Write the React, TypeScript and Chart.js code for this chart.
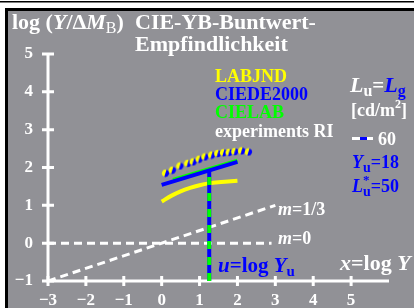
import { useEffect, useRef } from "react";
import { Chart, registerables } from "chart.js";

Chart.register(...registerables);

const xTickValues = [-3, -2, -1, 0, 1, 2, 3, 4, 5];
const yTickValues = [-1, 0, 1, 2, 3, 4, 5];
const slopeThirdX = [-3, 3];
const slopeThirdY = [-1, 1];
const slopeZeroX = [-3, 2.9];
const slopeZeroY = [0, 0];
const uLineX = [1.255, 1.255];
const uLineY = [-1, 1.93];
const ciede2000X = [0, 2];
const ciede2000Y = [1.54, 2.15];
const cielabX = [0.3, 2];
const cielabY = [1.67, 2.18];
const labjndX = [0, 0.25, 0.5, 0.75, 1, 1.25, 1.5, 1.75, 2];
const labjndY = [1.1, 1.25, 1.37, 1.46, 1.53, 1.58, 1.61, 1.63, 1.65];
const experimentsX = [0.1, 0.28, 0.48, 0.69, 0.83, 0.99, 1.14, 1.32, 1.48, 1.63, 1.78, 1.93, 2.11, 2.29];
const experimentsY = [1.85, 1.93, 2.04, 2.11, 2.15, 2.22, 2.28, 2.33, 2.37, 2.39, 2.4, 2.42, 2.44, 2.41];

const F = '"Liberation Serif", "Times New Roman", serif';
const b = (s: number) => `bold ${s}px ${F}`;
const bi = (s: number) => `italic bold ${s}px ${F}`;
const WHITE = "#ffffff";
const BLUE = "#0000ff";
const YELLOW = "#ffff00";
const GREEN = "#00ff00";
const GRAY = "#919196";

const pts = (xs: number[], ys: number[]) => xs.map((x, i) => ({ x, y: ys[i] }));

function makeDot(r: number) {
  const c = document.createElement("canvas");
  const s = Math.ceil(r * 2) + 1;
  c.width = s;
  c.height = s;
  const g = c.getContext("2d")!;
  const cx = s / 2,
    cy = s / 2;
  g.beginPath();
  g.arc(cx, cy, r, Math.PI * 0.6, Math.PI * 1.6);
  g.closePath();
  g.fillStyle = YELLOW;
  g.fill();
  g.beginPath();
  g.arc(cx, cy, r, -Math.PI * 0.4, Math.PI * 0.6);
  g.closePath();
  g.fillStyle = BLUE;
  g.fill();
  return c;
}

type Part = [string, string, string?, number?];
function rich(ctx: CanvasRenderingContext2D, x: number, y: number, parts: Part[], color = WHITE) {
  let cx = x;
  for (const [t, font, col, dy] of parts) {
    ctx.font = font;
    ctx.fillStyle = col || color;
    ctx.fillText(t, cx, y + (dy || 0));
    cx += ctx.measureText(t).width;
  }
  return cx;
}

const framePlugin = {
  id: "frame",
  beforeDraw(chart: any) {
    const ctx = chart.ctx as CanvasRenderingContext2D;
    const W = chart.width,
      H = chart.height;
    ctx.save();
    ctx.fillStyle = "#ffffff";
    ctx.fillRect(0, 0, W, H);
    ctx.fillStyle = "#000000";
    ctx.fillRect(0, 1, W, 1.5);
    ctx.fillRect(5, 8, W - 5, 3);
    ctx.fillRect(5, 8, 3, H - 8);
    ctx.fillStyle = GRAY;
    ctx.fillRect(8, 11, W - 8, H - 11);
    ctx.restore();
  },
  beforeDatasetsDraw(chart: any) {
    const ctx = chart.ctx as CanvasRenderingContext2D;
    const xs = chart.scales.x,
      ys = chart.scales.y;
    const x0 = xs.getPixelForValue(-3);
    const yb = ys.getPixelForValue(-1);
    ctx.save();
    ctx.strokeStyle = WHITE;
    ctx.lineWidth = 3;
    ctx.lineCap = "butt";
    ctx.beginPath();
    ctx.moveTo(x0, ys.getPixelForValue(5));
    ctx.lineTo(x0, yb);
    ctx.lineTo(xs.getPixelForValue(6), yb);
    ctx.stroke();
    ctx.beginPath();
    for (const v of yTickValues) {
      const py = ys.getPixelForValue(v);
      ctx.moveTo(x0 - 6, py);
      ctx.lineTo(x0 + 6, py);
    }
    for (const v of xTickValues) {
      const px = xs.getPixelForValue(v);
      ctx.moveTo(px, yb - 5);
      ctx.lineTo(px, yb + 5);
    }
    ctx.stroke();
    ctx.restore();
  },
  afterDraw(chart: any) {
    const ctx = chart.ctx as CanvasRenderingContext2D;
    ctx.save();
    ctx.textBaseline = "alphabetic";
    ctx.textAlign = "left";
    // title
    rich(ctx, 12, 29, [
      ["log (", b(22)],
      ["Y", bi(22)],
      ["/Δ", b(22)],
      ["M", bi(22)],
      ["B", `${16}px ${F}`, undefined, 4],
      [")", b(22)],
    ]);
    rich(ctx, 135, 29, [["CIE-YB-Buntwert-", b(22)]]);
    rich(ctx, 135, 51, [["Empfindlichkeit", b(22)]]);
    // legend
    rich(ctx, 215, 82, [["LABJND", b(18), YELLOW]]);
    rich(ctx, 215, 100, [["CIEDE2000", b(18), BLUE]]);
    rich(ctx, 215, 118, [["CIELAB", b(18), GREEN]]);
    rich(ctx, 215, 137, [["experiments RI", b(18), WHITE]]);
    // right block
    rich(ctx, 350, 92, [
      ["L", bi(22)],
      ["u", b(16), undefined, 4],
      ["=", b(21)],
      ["L", bi(22), BLUE],
      ["g", b(16), BLUE, 4],
    ]);
    rich(ctx, 351, 116, [["[cd/m", b(18)], ["2", b(12), undefined, -8], ["]", b(18)]]);
    ctx.fillStyle = WHITE;
    ctx.fillRect(352, 137, 8, 3);
    ctx.fillStyle = BLUE;
    ctx.fillRect(360, 137, 7, 3);
    ctx.fillStyle = WHITE;
    ctx.fillRect(367, 137, 6, 3);
    rich(ctx, 378, 145, [["60", b(18)]]);
    rich(ctx, 352, 168, [["Y", bi(18)], ["u", b(14), undefined, 4], ["=18", b(18)]], BLUE);
    ctx.font = bi(18);
    const lw = ctx.measureText("L").width;
    rich(ctx, 352, 192, [["L", bi(18)]], BLUE);
    rich(ctx, 352 + lw, 184, [["*", b(13)]], BLUE);
    const ue = rich(ctx, 352 + lw, 196, [["u", b(14)]], BLUE);
    rich(ctx, ue, 192, [["=50", b(18)]], BLUE);
    // line labels
    rich(ctx, 278, 215, [["m", bi(18)], ["=1/3", b(18)]]);
    rich(ctx, 278, 244, [["m", bi(18)], ["=0", b(18)]]);
    rich(ctx, 218, 272, [["u", bi(21)], ["=log ", b(21)], ["Y", bi(21)], ["u", b(15), undefined, 4]], BLUE);
    rich(ctx, 340, 270, [["x", bi(22)], ["=log ", b(22)], ["Y", bi(22)]]);
    ctx.restore();
  },
};

export default function App() {
  const ref = useRef<HTMLCanvasElement>(null);
  useEffect(() => {
    const dot = makeDot(3.6);
    const chart = new Chart(ref.current!, {
      type: "scatter",
      data: {
        datasets: [
          {
            data: pts(experimentsX, experimentsY),
            pointStyle: dot as any,
            pointRadius: 3.6,
            showLine: false,
            order: 0,
          },
          {
            data: pts(uLineX, uLineY),
            showLine: true,
            borderColor: GREEN,
            borderWidth: 4,
            borderDash: [8, 8],
            pointRadius: 0,
            order: 1,
          },
          {
            data: pts(uLineX, uLineY),
            showLine: true,
            borderColor: BLUE,
            borderWidth: 4,
            pointRadius: 0,
            order: 2,
          },
          {
            data: pts(ciede2000X, ciede2000Y),
            showLine: true,
            borderColor: BLUE,
            borderWidth: 4,
            pointRadius: 0,
            order: 3,
          },
          {
            data: pts(cielabX, cielabY),
            showLine: true,
            borderColor: GREEN,
            borderWidth: 4,
            pointRadius: 0,
            order: 4,
          },
          {
            data: pts(labjndX, labjndY),
            showLine: true,
            borderColor: YELLOW,
            borderWidth: 4,
            pointRadius: 0,
            cubicInterpolationMode: "monotone",
            order: 5,
          },
          {
            data: pts(slopeThirdX, slopeThirdY),
            showLine: true,
            borderColor: WHITE,
            borderWidth: 3,
            borderDash: [8, 5],
            pointRadius: 0,
            order: 6,
          },
          {
            data: pts(slopeZeroX, slopeZeroY),
            showLine: true,
            borderColor: WHITE,
            borderWidth: 3,
            borderDash: [8, 5],
            pointRadius: 0,
            order: 7,
          },
        ],
      },
      options: {
        animation: false,
        responsive: false,
        devicePixelRatio: 1,
        layout: { padding: { left: 8, top: 54, right: 25, bottom: 0 } },
        plugins: { legend: { display: false }, tooltip: { enabled: false } },
        scales: {
          x: {
            type: "linear",
            min: -3,
            max: 6,
            grid: { display: false, drawTicks: false },
            border: { display: false },
            afterFit: (s: any) => {
              s.height = 27;
            },
            afterBuildTicks: (s: any) => {
              s.ticks = xTickValues.map((v) => ({ value: v }));
            },
            ticks: {
              color: WHITE,
              font: { family: F, size: 17, weight: "bold" },
              padding: 9,
              maxRotation: 0,
              autoSkip: false,
              callback: (v: any) => (v < 0 ? "\u2212" + Math.abs(v) : String(v)),
            },
          },
          y: {
            type: "linear",
            min: -1,
            max: 5,
            grid: { display: false, drawTicks: false },
            border: { display: false },
            afterFit: (s: any) => {
              s.width = 40;
            },
            afterBuildTicks: (s: any) => {
              s.ticks = yTickValues.map((v) => ({ value: v }));
            },
            ticks: {
              color: WHITE,
              font: { family: F, size: 17, weight: "bold" },
              padding: 15,
              autoSkip: false,
              callback: (v: any) => (v < 0 ? "\u2212" + Math.abs(v) : String(v)),
            },
          },
        },
      },
      plugins: [framePlugin],
    });
    return () => chart.destroy();
  }, []);
  return (
    <canvas
      ref={ref}
      width={414}
      height={308}
      style={{ position: "fixed", left: 0, top: 0, width: 414, height: 308 }}
    />
  );
}
